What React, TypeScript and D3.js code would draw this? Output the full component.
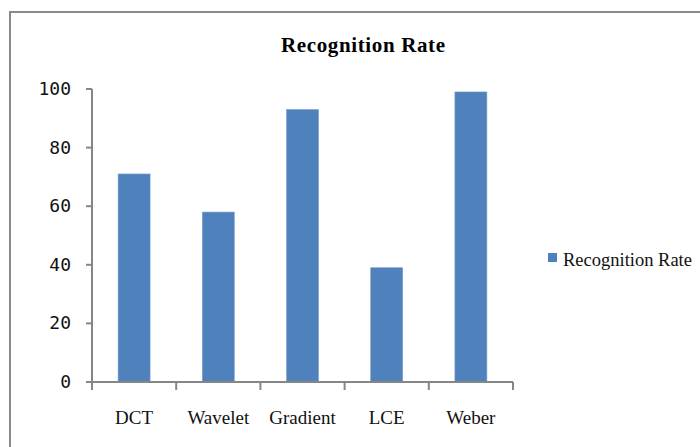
import React, { useEffect, useRef } from 'react';
import * as d3 from 'd3';

const categories = ['DCT', 'Wavelet', 'Gradient', 'LCE', 'Weber'];
const rates = [71, 58, 93, 39, 99];
const yTicks = [0, 20, 40, 60, 80, 100];
const seriesName = 'Recognition Rate';

const App: React.FC = () => {
  const svgRef = useRef<SVGSVGElement | null>(null);

  useEffect(() => {
    const width = 700;
    const height = 447;
    const svg = d3.select(svgRef.current);
    svg.selectAll('*').remove();
    svg.attr('width', width).attr('height', height);

    svg.append('rect').attr('width', width).attr('height', height).attr('fill', '#fff');
    // outer chart frame
    svg
      .append('rect')
      .attr('x', 10)
      .attr('y', 12)
      .attr('width', 720)
      .attr('height', 460)
      .attr('fill', 'none')
      .attr('stroke', '#8a8a8a')
      .attr('stroke-width', 2);

    const left = 92;
    const right = 513;
    const top = 89;
    const bottom = 382;

    const x = d3.scaleBand<string>().domain(categories).range([left, right]).paddingInner(0.62).paddingOuter(0.31);
    const xb = d3.scaleBand<string>().domain(categories).range([left, right]);
    const y = d3.scaleLinear().domain([0, 100]).range([bottom, top]);

    svg
      .append('text')
      .attr('x', 281)
      .attr('y', 52)
      .attr('font-family', 'Liberation Serif')
      .attr('font-weight', 'bold')
      .attr('font-size', 21)
      .attr('textLength', 164)
      .attr('lengthAdjust', 'spacing')
      .text('Recognition Rate');

    svg
      .append('g')
      .selectAll('rect')
      .data(rates)
      .enter()
      .append('rect')
      .attr('x', (_, i) => x(categories[i]) || 0)
      .attr('y', (d) => y(d))
      .attr('width', x.bandwidth())
      .attr('height', (d) => bottom - y(d))
      .attr('fill', '#4f81bd')
      .attr('stroke', '#7ea0cc')
      .attr('stroke-width', 0.6);

    const axisColor = '#868686';

    // y axis
    const ya = svg.append('g');
    ya.append('line')
      .attr('x1', left).attr('x2', left)
      .attr('y1', top).attr('y2', bottom)
      .attr('stroke', axisColor).attr('stroke-width', 2);
    ya.selectAll('line.tick')
      .data(yTicks)
      .enter()
      .append('line')
      .attr('class', 'tick')
      .attr('x1', left - 6).attr('x2', left)
      .attr('y1', (d) => y(d)).attr('y2', (d) => y(d))
      .attr('stroke', axisColor).attr('stroke-width', 2);
    ya.selectAll('text')
      .data(yTicks)
      .enter()
      .append('text')
      .attr('x', 71)
      .attr('y', (d) => y(d) + 6)
      .attr('text-anchor', 'end')
      .attr('font-family', 'DejaVu Sans Mono')
      .attr('font-size', 18)
      .attr('fill', '#111')
      .text((d) => String(d));

    // x axis
    const xa = svg.append('g');
    xa.append('line')
      .attr('x1', left - 6).attr('x2', right)
      .attr('y1', bottom).attr('y2', bottom)
      .attr('stroke', axisColor).attr('stroke-width', 2);
    const edges = categories.map((c) => xb(c) || 0).concat([right]);
    xa.selectAll('line.tick')
      .data(edges)
      .enter()
      .append('line')
      .attr('class', 'tick')
      .attr('x1', (d) => d).attr('x2', (d) => d)
      .attr('y1', bottom).attr('y2', bottom + 8)
      .attr('stroke', axisColor).attr('stroke-width', 2);
    xa.selectAll('text')
      .data(categories)
      .enter()
      .append('text')
      .attr('x', (d) => (xb(d) || 0) + xb.bandwidth() / 2)
      .attr('y', 424)
      .attr('text-anchor', 'middle')
      .attr('font-family', 'Liberation Serif')
      .attr('font-size', 19)
      .attr('fill', '#111')
      .text((d) => d);

    // legend
    const lg = svg.append('g');
    lg.append('rect')
      .attr('x', 548).attr('y', 253)
      .attr('width', 9).attr('height', 9)
      .attr('fill', '#4f81bd');
    lg.append('text')
      .attr('x', 563)
      .attr('y', 266)
      .attr('font-family', 'Liberation Serif')
      .attr('font-size', 18.5)
      .attr('fill', '#111')
      .text(seriesName);
  }, []);

  return (
    <svg
      ref={svgRef}
      style={{ position: 'absolute', left: 0, top: 0, display: 'block' }}
      aria-label="Recognition rate bar chart"
    />
  );
};

export default App;
